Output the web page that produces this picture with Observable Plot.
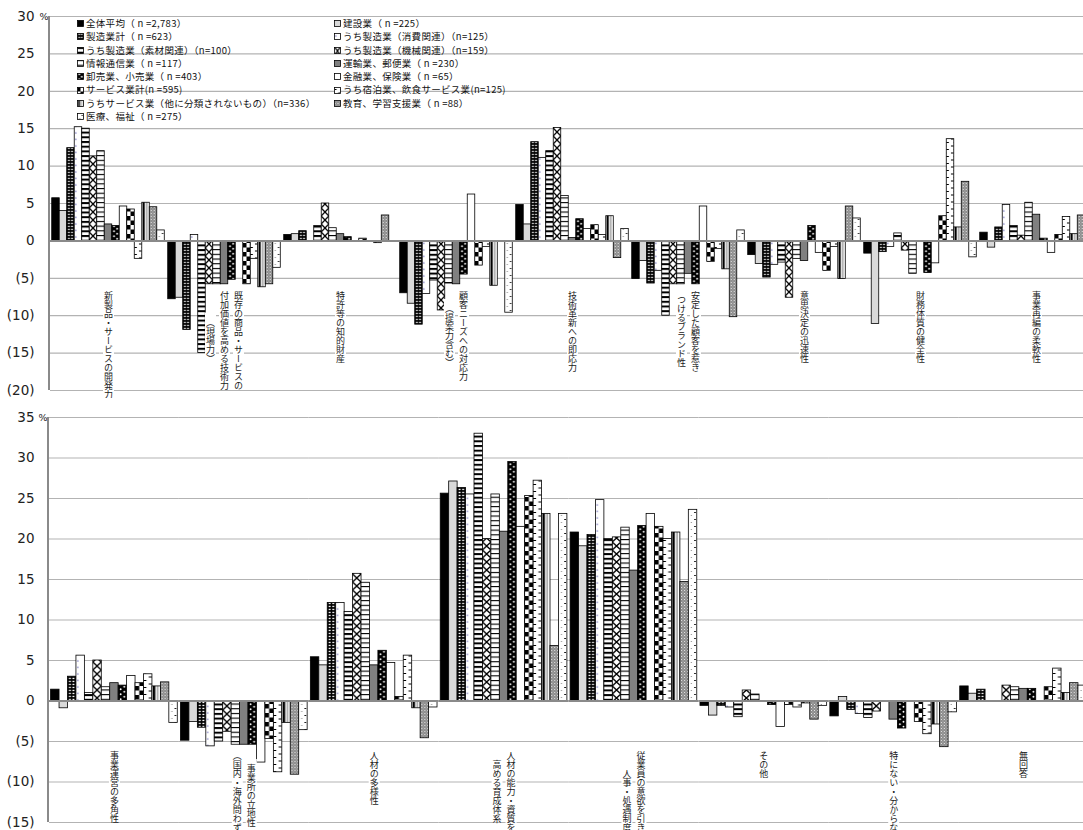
<!DOCTYPE html>
<html lang="ja">
<head>
<meta charset="utf-8">
<script src="https://cdn.jsdelivr.net/npm/d3@7"></script>
<script src="https://cdn.jsdelivr.net/npm/@observablehq/plot@0.6"></script>
<style>
  html, body { margin: 0; padding: 0; background: #fff; }
  #chart { position: relative; width: 1083px; height: 830px; overflow: hidden; font-family: "Noto Sans CJK JP", sans-serif; }
  #chart > div > svg { display: block; }
  #legend { position: absolute; left: 77px; top: 17px; display: grid; grid-template-columns: 257px 250px; grid-auto-rows: 13.3px; font-size: 9.5px; letter-spacing: 0.3px; color: #111; line-height: 13.3px; }
  #legend .item { display: flex; align-items: center; white-space: nowrap; }
  #legend .item svg { flex: none; margin-right: 2px; }
</style>
</head>
<body>
<svg id="patterns" width="0" height="0" style="position:absolute"><defs></defs></svg>
<div id="chart">
  <div id="upper"></div>
  <div id="lower"></div>
  <div id="legend"></div>
</div>
<script>
// Industry groups (series), in legend order
const series = [
  "全体平均", "建設業", "製造業計", "うち製造業（消費関連）", "うち製造業（素材関連）",
  "うち製造業（機械関連）", "情報通信業", "運輸業、郵便業", "卸売業、小売業", "金融業、保険業",
  "サービス業計", "うち宿泊業、飲食サービス業", "うちサービス業（他に分類されないもの）",
  "教育、学習支援業", "医療、福祉"
];
const legendLabels = [
  "全体平均（ n =2,783）", "建設業（ n =225）",
  "製造業計（ n =623）", "うち製造業（消費関連）（n=125）",
  "うち製造業（素材関連）（n=100）", "うち製造業（機械関連）（n=159）",
  "情報通信業（ n =117）", "運輸業、郵便業（ n =230）",
  "卸売業、小売業（ n =403）", "金融業、保険業（ n =65）",
  "サービス業計(n =595)", "うち宿泊業、飲食サービス業(n=125)",
  "うちサービス業（他に分類されないもの）（n=336）", "教育、学習支援業（ n =88）",
  "医療、福祉（ n =275）"
];

// Upper panel categories and their vertical label columns (right to left)
const topCategories = [
  "新製品・サービスの開発力", "既存の商品・サービスの付加価値を高める技術力（現場力）",
  "特許等の知的財産", "顧客ニーズへの対応力（提案力含む）", "技術革新への即応力",
  "安定した顧客を惹きつけるブランド性", "意思決定の迅速性", "財務体質の健全性", "事業再編の柔軟性"
];
const topLabelColumns = [
  ["新製品・サービスの開発力"],
  ["既存の商品・サービスの", "付加価値を高める技術力", "（現場力）"],
  ["特許等の知的財産"],
  ["顧客ニーズへの対応力", "（提案力含む）"],
  ["技術革新への即応力"],
  ["安定した顧客を惹き", "つけるブランド性"],
  ["意思決定の迅速性"],
  ["財務体質の健全性"],
  ["事業再編の柔軟性"]
];

// Upper panel values (%), one array per category, in series order
const newProductDev        = [5.7, 4.0, 12.4, 15.2, 15.0, 11.3, 12.0, 2.2, 2.0, 4.6, 4.2, -2.4, 5.1, 4.5, 1.4];
const addedValueTech       = [-7.8, -7.6, -11.9, 0.8, -15.0, -5.8, -5.8, -5.8, -5.2, 0, -5.8, -2.4, -6.2, -5.8, -3.6];
const intellectualProperty = [0.8, 0.9, 1.3, 0, 2.0, 5.0, 1.7, 0.9, 0.5, 0, 0.3, 0, -0.3, 3.4, 0];
const customerNeeds        = [-7.0, -8.4, -11.2, -7.1, -5.3, -9.3, -5.7, -5.8, -4.5, 6.2, -3.3, -0.8, -6.0, 0, -9.6];
const techInnovation       = [4.8, 2.2, 13.2, 11.1, 12.0, 15.1, 6.0, 0.4, 2.9, 1.6, 2.1, 0.8, 3.3, -2.3, 1.6];
const brandLoyalty         = [-5.1, -2.7, -5.7, -4.0, -10.0, -5.8, -5.8, -4.4, -5.8, 4.6, -2.8, -1.1, -3.8, -10.2, 1.4];
const quickDecision        = [-1.9, -3.1, -4.9, -3.2, -2.9, -7.6, -2.4, -2.7, 2.0, -1.6, -4.0, -0.8, -5.1, 4.6, 3.0];
const financialHealth      = [-1.7, -11.1, -1.5, -0.8, 1.0, -1.3, -4.4, 0, -4.3, -3.0, 3.3, 13.6, 1.8, 7.9, -2.2];
const restructuring        = [1.1, -0.9, 1.8, 4.8, 2.0, 0.7, 5.1, 3.5, 0.3, -1.6, 0.8, 3.2, 0.9, 3.4, 1.0];
const topValues = [newProductDev, addedValueTech, intellectualProperty, customerNeeds, techInnovation,
                   brandLoyalty, quickDecision, financialHealth, restructuring];

// Lower panel categories and label columns
const bottomCategories = [
  "事業運営の多角性", "事業所の立地性（国内・海外問わず）", "人材の多様性",
  "人材の能力・資質を高める育成体系", "従業員の意欲を引き出す人事・処遇制度",
  "その他", "特にない・分からない", "無回答"
];
const bottomLabelColumns = [
  ["事業運営の多角性"],
  ["事業所の立地性", "（国内・海外問わず）"],
  ["人材の多様性"],
  ["人材の能力・資質を", "高める育成体系"],
  ["従業員の意欲を引き出す", "人事・処遇制度"],
  ["その他"],
  ["特にない・分からない"],
  ["無回答"]
];

// Lower panel values (%)
const diversification    = [1.4, -0.9, 3.0, 5.6, 1.0, 5.0, 1.7, 2.2, 1.9, 3.1, 2.2, 3.3, 1.8, 2.3, -2.7];
const siteLocation       = [-4.9, -2.6, -3.3, -5.6, -5.0, -3.8, -5.4, -5.4, -5.4, -7.6, -4.7, -8.8, -2.7, -9.1, -3.6];
const workforceDiversity = [5.4, 4.4, 12.1, 12.1, 11.0, 15.7, 14.6, 4.4, 6.2, 4.7, 0.5, 5.6, -0.9, -4.6, -0.8];
const trainingSystem     = [25.6, 27.1, 26.3, 25.5, 33.0, 20.0, 25.5, 20.9, 29.5, 21.5, 25.3, 27.2, 23.1, 6.8, 23.1];
const motivationHR       = [20.8, 19.1, 20.5, 24.8, 20.0, 20.2, 21.4, 16.1, 21.6, 23.1, 21.5, 20.0, 20.8, 14.7, 23.6];
const otherReason        = [-0.6, -1.8, -0.6, -0.8, -2.0, 1.3, 0.8, 0, -0.5, -3.2, -0.5, -0.8, -0.3, -2.3, -0.6];
const noneUnknown        = [-1.9, 0.5, -1.1, -1.6, -2.1, -1.3, 0, -2.3, -3.4, 0, -2.6, -4.1, -2.9, -5.7, -1.4];
const noAnswer           = [1.8, 0.9, 1.4, 0, 0, 1.9, 1.7, 1.5, 1.5, 0, 1.7, 4.0, 1.0, 2.2, 1.9];
const bottomValues = [diversification, siteLocation, workforceDiversity, trainingSystem, motivationHR,
                      otherReason, noneUnknown, noAnswer];

// Negative ticks are shown in accounting style: (5)
const fmt = d => d < 0 ? `(${-d})` : `${d}`;

// Monochrome fill patterns, one per series; w is the bar width so each bar shows the same tile phase
function patternSpecs(w) {
  const r = (x, y, width, height, fill = "#000") => ["rect", {x, y, width, height, fill}];
  const c = (cx, cy, rr, fill) => ["circle", {cx, cy, r: rr, fill}];
  return [
    {h: 4, bg: "#000"},
    {h: 4, bg: "#d9d9d9"},
    {h: 3, bg: "#000", shapes: [r(0.18 * w, 0.8, 0.22 * w, 1.3, "#fff"), r(0.6 * w, 0.8, 0.22 * w, 1.3, "#fff")]},
    {h: 6.5, bg: "#fff", shapes: [c(0.22 * w, 3, 0.8, "#8c8cc8")]},
    {h: 4.7, bg: "#fff", shapes: [r(0, 0, w, 2)]},
    {h: 8, bg: "#fff", shapes: [["path", {d: `M0,0L${w},8M${w},0L0,8`, stroke: "#000", "stroke-width": 1.3, fill: "none"}]]},
    {h: 4.7, bg: "#fff", shapes: [r(0, 0, w, 1.1)]},
    {h: 4, bg: "#808080"},
    {h: 5, bg: "#000", shapes: [c(0.3 * w, 1.25, 0.9, "#fff"), c(0.72 * w, 3.75, 0.9, "#fff")]},
    {h: 4, bg: "#fff"},
    {h: 9, bg: "#fff", shapes: [r(0, 0, w / 2, 4.5), r(w / 2, 4.5, w / 2, 4.5)]},
    {h: 7, bg: "#fff", shapes: [r(0, 2, 0.35 * w, 1), r(0.62 * w, 5.5, 0.38 * w, 1)]},
    {h: 4, bg: "#fff", shapes: [r(0.1 * w, 0, 0.3 * w, 4), r(0.62 * w, 0, 0.1 * w, 4, "#555")]},
    {w: 3, h: 3, bg: "#8c8c8c", shapes: [r(0, 0, 1, 1, "#e8e8e8"), r(1.5, 1.5, 1, 1, "#bdbdbd")]},
    {h: 7, bg: "#fff", shapes: [r(0.68 * w, 2, 0.22 * w, 0.9), c(0.35 * w, 5.5, 0.45, "#000")]}
  ];
}

function buildPatterns(prefix, w, x0) {
  const defs = d3.select("#patterns defs");
  patternSpecs(w).forEach((s, i) => {
    const pw = s.w ?? w;
    const p = defs.append("pattern")
      .attr("id", prefix + i)
      .attr("patternUnits", "userSpaceOnUse")
      .attr("x", x0).attr("y", 0)
      .attr("width", pw).attr("height", s.h);
    p.append("rect").attr("width", pw).attr("height", s.h).attr("fill", s.bg);
    (s.shapes || []).forEach(([type, attrs]) => {
      const e = p.append(type);
      for (const k in attrs) e.attr(k, attrs[k]);
    });
  });
}

const LABEL_INK = "#1b1b1b";

function drawPanel(cfg) {
  const {categories, values, columns, yDomain, height, marginTop, marginBottom,
         marginLeft, marginRight, labelTop, prefix, tickPadding, paddingOuter} = cfg;
  const rows = categories.flatMap((cat, ci) =>
    values[ci].map((value, si) => ({cat, series: series[si], si, value}))
  ).filter(d => d.value !== 0);
  const ticks = d3.range(yDomain[0], yDomain[1] + 1, 5);
  const pxPerUnit = (height - marginTop - marginBottom) / (yDomain[1] - yDomain[0]);

  // Vertical category labels: one column per line, right to left, centred on the longest
  const fontSize = 9, colGap = 14;
  const labelBacks = [], labelTexts = [];
  categories.forEach((cat, ci) => {
    const cols = columns[ci];
    const n = cols.length;
    const maxLen = d3.max(cols, s => Array.from(s).length);
    cols.forEach((col, i) => {
      const len = Array.from(col).length;
      const dx = ((n - 1) / 2 - i) * colGap;
      const offset = (maxLen - len) / 2 * fontSize;
      labelBacks.push(Plot.ruleX([cat], {
        fx: d => d, x: () => series[7], dx,
        y1: () => labelTop - (offset - 2) / pxPerUnit,
        y2: () => labelTop - (offset + len * fontSize + 2) / pxPerUnit,
        stroke: "white", strokeWidth: 11
      }));
      labelTexts.push(Plot.text([cat], {
        fx: d => d, y: () => labelTop, text: () => col, dx, dy: offset,
        textAnchor: "start", lineAnchor: "middle",
        fontSize, fontFamily: "Noto Sans CJK JP", fill: LABEL_INK
      }));
    });
  });

  const chart = Plot.plot({
    width: 1083, height, marginTop, marginBottom, marginLeft, marginRight,
    style: {fontFamily: "DejaVu Sans, sans-serif", fontSize: "13.5px", color: "#222", background: "white"},
    fx: {domain: categories, padding: 0, round: false, axis: null},
    x: {domain: series, paddingInner: 0, paddingOuter, round: false, axis: null},
    y: {domain: yDomain, ticks, tickFormat: fmt, tickSize: 0, tickPadding, label: null},
    color: {type: "identity"},
    marks: [
      Plot.ruleY(ticks.filter(t => t !== 0), {stroke: "#b3b3b3", strokeWidth: 1.2}),
      Plot.barY(rows, {
        fx: "cat", x: "series", y: "value",
        fill: d => `url(#${prefix}${d.si})`,
        stroke: "#000", strokeWidth: 0.8
      }),
      Plot.ruleY([0], {stroke: "#8a8a8a", strokeWidth: 2}),
      ...labelBacks,
      ...labelTexts,
      Plot.text(["%"], {
        fx: () => categories[0], frameAnchor: "top-left", dx: -11, text: d => d,
        textAnchor: "start", lineAnchor: "middle", fontSize: 9.5, fill: "#222"
      })
    ]
  });

  // Category labels are set in vertical Japanese writing (top to bottom)
  d3.select(chart)
    .selectAll(`g[fill="${LABEL_INK}"] text, text[fill="${LABEL_INK}"]`)
    .attr("dy", null)
    .style("writing-mode", "vertical-rl")
    .style("text-orientation", "mixed");

  // Bar-aligned patterns for this panel
  const xs = chart.scale("x");
  const w = xs.bandwidth ?? xs.step;
  const x0 = typeof xs.apply === "function" ? xs.apply(series[0]) : marginLeft + paddingOuter * w;
  buildPatterns(prefix, w, x0);

  // Left axis line
  const ys = chart.scale("y");
  d3.select(chart).append("line")
    .attr("x1", marginLeft - 1).attr("x2", marginLeft - 1)
    .attr("y1", ys.range[0]).attr("y2", ys.range[1])
    .attr("stroke", "#8a8a8a").attr("stroke-width", 2);
  return chart;
}

document.getElementById("upper").append(drawPanel({
  categories: topCategories, values: topValues, columns: topLabelColumns,
  yDomain: [-20, 30], height: 398, marginTop: 16, marginBottom: 8,
  marginLeft: 50, marginRight: -11, labelTop: -6.3, prefix: "t",
  tickPadding: 16, paddingOuter: 0.23
}));

document.getElementById("lower").append(drawPanel({
  categories: bottomCategories, values: bottomValues, columns: bottomLabelColumns,
  yDomain: [-15, 35], height: 432, marginTop: 19, marginBottom: 8,
  marginLeft: 49, marginRight: -5, labelTop: -5.8, prefix: "b",
  tickPadding: 15, paddingOuter: 0.19
}));

// Legend: two columns of patterned swatches over the upper panel
buildPatterns("l", 6, 0.5);
const legend = d3.select("#legend");
legendLabels.forEach((label, i) => {
  const item = legend.append("div").attr("class", "item");
  const sw = item.append("svg").attr("width", 7).attr("height", 7);
  sw.append("rect").attr("x", 0.5).attr("y", 0.5).attr("width", 6).attr("height", 6)
    .attr("fill", `url(#l${i})`).attr("stroke", "#000").attr("stroke-width", 0.8);
  item.append("span").text(label);
});
</script>
</body>
</html>
